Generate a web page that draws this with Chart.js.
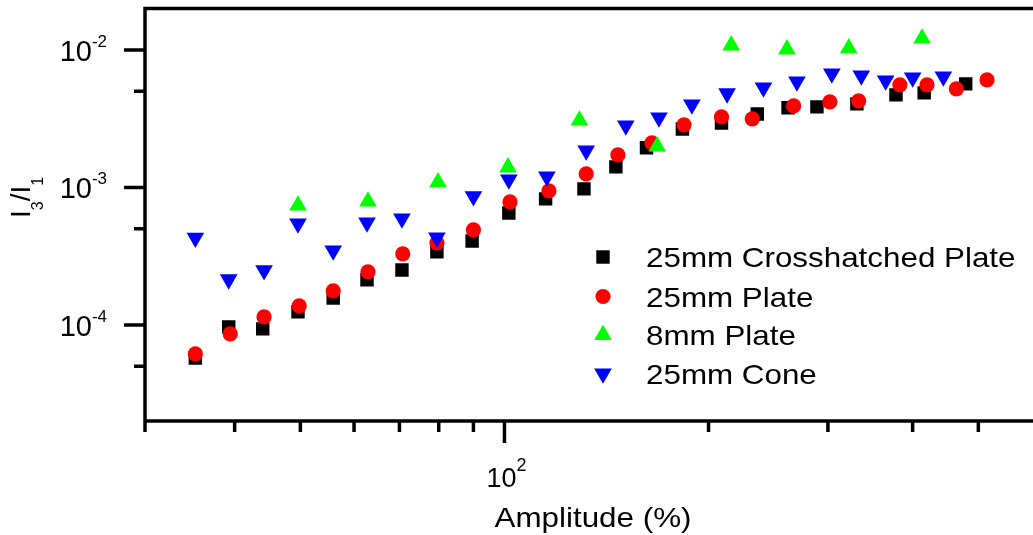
<!DOCTYPE html>
<html>
<head>
<meta charset="utf-8">
<script src="https://cdn.jsdelivr.net/npm/chart.js@4.4.0/dist/chart.umd.min.js"></script>
<style>
  html, body { margin: 0; padding: 0; background: #fff; }
  canvas { display: block; }
</style>
</head>
<body>
<canvas id="chart" width="1033" height="535"></canvas>
<script>
// series (amplitude in %, I3/I1)
var crossX = [35.0, 39.2, 44.0, 49.6, 55.9, 62.7, 70.6, 79.5, 89.6, 101.5, 115, 131, 146, 162, 183, 209, 236, 262, 289, 331, 378, 416, 479];
var crossY = [5.75e-5, 9.67e-5, 9.35e-5, 1.245e-4, 1.57e-4, 2.13e-4, 2.51e-4, 3.40e-4, 4.08e-4, 6.52e-4, 8.25e-4, 9.75e-4, 1.41e-3, 1.94e-3, 2.66e-3, 2.94e-3, 3.42e-3, 3.79e-3, 3.85e-3, 4.05e-3, 4.71e-3, 4.87e-3, 5.66e-3];

var plateX = [35.0, 39.4, 44.2, 49.8, 55.9, 62.9, 70.8, 79.5, 90.0, 101.9, 116.3, 132, 147, 165, 184, 209, 232, 267, 302, 333, 383, 420, 464, 515];
var plateY = [6.15e-5, 8.6e-5, 1.143e-4, 1.375e-4, 1.768e-4, 2.43e-4, 3.28e-4, 3.95e-4, 4.91e-4, 7.84e-4, 9.43e-4, 1.254e-3, 1.723e-3, 2.107e-3, 2.85e-3, 3.26e-3, 3.15e-3, 3.91e-3, 4.19e-3, 4.26e-3, 5.57e-3, 5.57e-3, 5.21e-3, 6.05e-3];

var smallX = [49.6, 62.9, 79.8, 101.2, 129, 168, 216, 261, 322, 413];
var smallY = [7.4e-4, 7.9e-4, 1.09e-3, 1.40e-3, 3.07e-3, 1.99e-3, 1.08e-2, 1.01e-2, 1.03e-2, 1.21e-2];

var coneX = [35.0, 39.2, 44.2, 49.6, 55.9, 62.7, 70.6, 79.5, 90.0, 101.5, 115.5, 132, 151, 169, 189, 213, 241, 270, 304, 336, 365, 400, 444];
var coneY = [4.3e-4, 2.14e-4, 2.49e-4, 5.46e-4, 3.47e-4, 5.55e-4, 5.94e-4, 4.32e-4, 8.6e-4, 1.14e-3, 1.20e-3, 1.85e-3, 2.82e-3, 3.22e-3, 4.0e-3, 4.82e-3, 5.32e-3, 5.89e-3, 6.73e-3, 6.51e-3, 5.98e-3, 6.29e-3, 6.40e-3];

var seriesNames = ["25mm Crosshatched Plate", "25mm Plate", "8mm Plate", "25mm Cone"];

// axis ranges and ticks
var X_MIN = 29.5, X_MAX = 602;
var Y_MIN = 2e-5, Y_MAX = 2e-2;
var xMajor = [100];
var xMinor = [40, 50, 60, 70, 80, 90, 200, 300, 400, 500];
var yMajor = [1e-4, 1e-3, 1e-2];
var yMinor = [5e-5, 5e-4, 5e-3];

var FONT = '"Liberation Sans", Arial, Helvetica, sans-serif';

function pts(xs, ys) {
    return xs.map(function (x, i) { return { x: x, y: ys[i] }; });
}

// text with a horizontal stretch, like the reference
function stretchText(ctx, txt, x, y, size, sx, align) {
    ctx.save();
    ctx.font = size + 'px ' + FONT;
    var w = ctx.measureText(txt).width * sx;
    var x0 = align === 'center' ? x - w / 2 : (align === 'right' ? x - w : x);
    ctx.translate(x0, y);
    ctx.scale(sx, 1);
    ctx.textAlign = 'left';
    ctx.textBaseline = 'alphabetic';
    ctx.fillStyle = '#000';
    ctx.fillText(txt, 0, 0);
    ctx.restore();
    return w;
}

function textWidth(ctx, txt, size, sx) {
    ctx.font = size + 'px ' + FONT;
    return ctx.measureText(txt).width * sx;
}

function powLabel(ctx, exp, x, y, align, baseSize, expSize, rise, sx) {
    var wb = textWidth(ctx, '10', baseSize, sx);
    var we = textWidth(ctx, exp, expSize, sx);
    var total = wb + we;
    var x0 = align === 'right' ? x - total : (align === 'center' ? x - total / 2 : x);
    stretchText(ctx, '10', x0, y, baseSize, sx, 'left');
    stretchText(ctx, exp, x0 + wb, y - rise, expSize, sx, 'left');
}

var axesPlugin = {
    id: 'originAxes',
    afterDraw: function (chart) {
        var ctx = chart.ctx;
        var a = chart.chartArea;
        var xs = chart.scales.x, ys = chart.scales.y;
        ctx.save();
        ctx.strokeStyle = '#000';
        ctx.lineWidth = 3.5;
        ctx.lineJoin = 'miter';
        ctx.lineCap = 'butt';

        // frame (right side falls off the canvas)
        ctx.beginPath();
        ctx.moveTo(chart.width + 5, a.top);
        ctx.lineTo(a.left, a.top);
        ctx.lineTo(a.left, a.bottom + 11);
        ctx.moveTo(a.left, a.bottom);
        ctx.lineTo(chart.width + 5, a.bottom);
        ctx.stroke();

        // y ticks
        ctx.beginPath();
        yMajor.forEach(function (v) {
            var p = ys.getPixelForValue(v);
            ctx.moveTo(a.left - 21, p); ctx.lineTo(a.left, p);
        });
        yMinor.forEach(function (v) {
            var p = ys.getPixelForValue(v);
            ctx.moveTo(a.left - 11, p); ctx.lineTo(a.left, p);
        });
        // x ticks
        xMajor.forEach(function (v) {
            var p = xs.getPixelForValue(v);
            ctx.moveTo(p, a.bottom); ctx.lineTo(p, a.bottom + 22);
        });
        xMinor.forEach(function (v) {
            var p = xs.getPixelForValue(v);
            ctx.moveTo(p, a.bottom); ctx.lineTo(p, a.bottom + 11);
        });
        ctx.stroke();

        // tick labels
        yMajor.forEach(function (v) {
            var p = ys.getPixelForValue(v);
            powLabel(ctx, String(Math.round(Math.log10(v))), a.left - 38, p + 11, 'right', 29, 17, 14, 1.0);
        });
        xMajor.forEach(function (v) {
            var p = xs.getPixelForValue(v);
            powLabel(ctx, String(Math.round(Math.log10(v))), p + 2, a.bottom + 66, 'center', 27, 18, 16, 1.0);
        });

        // axis titles
        stretchText(ctx, 'Amplitude (%)', (a.left + chart.width) / 2 + 4, 527, 28, 1.12, 'center');

        ctx.save();
        ctx.translate(30, 218);
        ctx.rotate(-Math.PI / 2);
        var cx = 0;
        var parts = [['I', 28, 0], ['3', 16, 13], ['/', 28, 0], ['I', 28, 0], ['1', 16, 13]];
        parts.forEach(function (p) {
            cx += stretchText(ctx, p[0], cx, p[2], p[1], 1.0, 'left');
        });
        ctx.restore();

        // legend inside the plot
        var rows = [257, 296.5, 335, 373.5];
        chart.data.datasets.forEach(function (ds, i) {
            ctx.fillStyle = ds.pointBackgroundColor;
            Chart.helpers.drawPoint(ctx, {
                pointStyle: ds.pointStyle,
                radius: ds.pointRadius,
                rotation: ds.pointRotation || 0,
                borderWidth: 0
            }, 603, rows[i]);
            stretchText(ctx, ds.label, 646, rows[i] + 10, 28, 1.12, 'left');
        });
        ctx.restore();
    }
};

var ctx = document.getElementById('chart');

var chart = new Chart(ctx, {
    type: 'scatter',
    data: {
        datasets: [
            {
                label: seriesNames[0],
                data: pts(crossX, crossY),
                pointStyle: 'rect',
                pointRadius: 9.5,
                pointBackgroundColor: '#000000',
                pointBorderColor: '#000000',
                pointBorderWidth: 0,
                order: 4
            },
            {
                label: seriesNames[1],
                data: pts(plateX, plateY),
                pointStyle: 'circle',
                pointRadius: 7.6,
                pointBackgroundColor: '#ff0000',
                pointBorderColor: '#ff0000',
                pointBorderWidth: 0,
                order: 3
            },
            {
                label: seriesNames[2],
                data: pts(smallX, smallY),
                pointStyle: 'triangle',
                pointRadius: 10.2,
                pointBackgroundColor: '#00ff00',
                pointBorderColor: '#00ff00',
                pointBorderWidth: 0,
                order: 2
            },
            {
                label: seriesNames[3],
                data: pts(coneX, coneY),
                pointStyle: 'triangle',
                pointRotation: 180,
                pointRadius: 10.2,
                pointBackgroundColor: '#0000ff',
                pointBorderColor: '#0000ff',
                pointBorderWidth: 0,
                order: 1
            }
        ]
    },
    options: {
        responsive: false,
        animation: false,
        devicePixelRatio: 1,
        events: [],
        layout: { autoPadding: false, padding: { top: 8.5, left: 0, right: 0, bottom: 0 } },
        plugins: {
            legend: { display: false },
            tooltip: { enabled: false }
        },
        scales: {
            x: {
                type: 'logarithmic',
                min: X_MIN,
                max: X_MAX,
                ticks: { display: false },
                grid: { display: false },
                border: { display: false },
                afterFit: function (s) { s.height = 114; }
            },
            y: {
                type: 'logarithmic',
                min: Y_MIN,
                max: Y_MAX,
                ticks: { display: false },
                grid: { display: false },
                border: { display: false },
                afterFit: function (s) { s.width = 145; }
            }
        }
    },
    plugins: [axesPlugin]
});
</script>
</body>
</html>
